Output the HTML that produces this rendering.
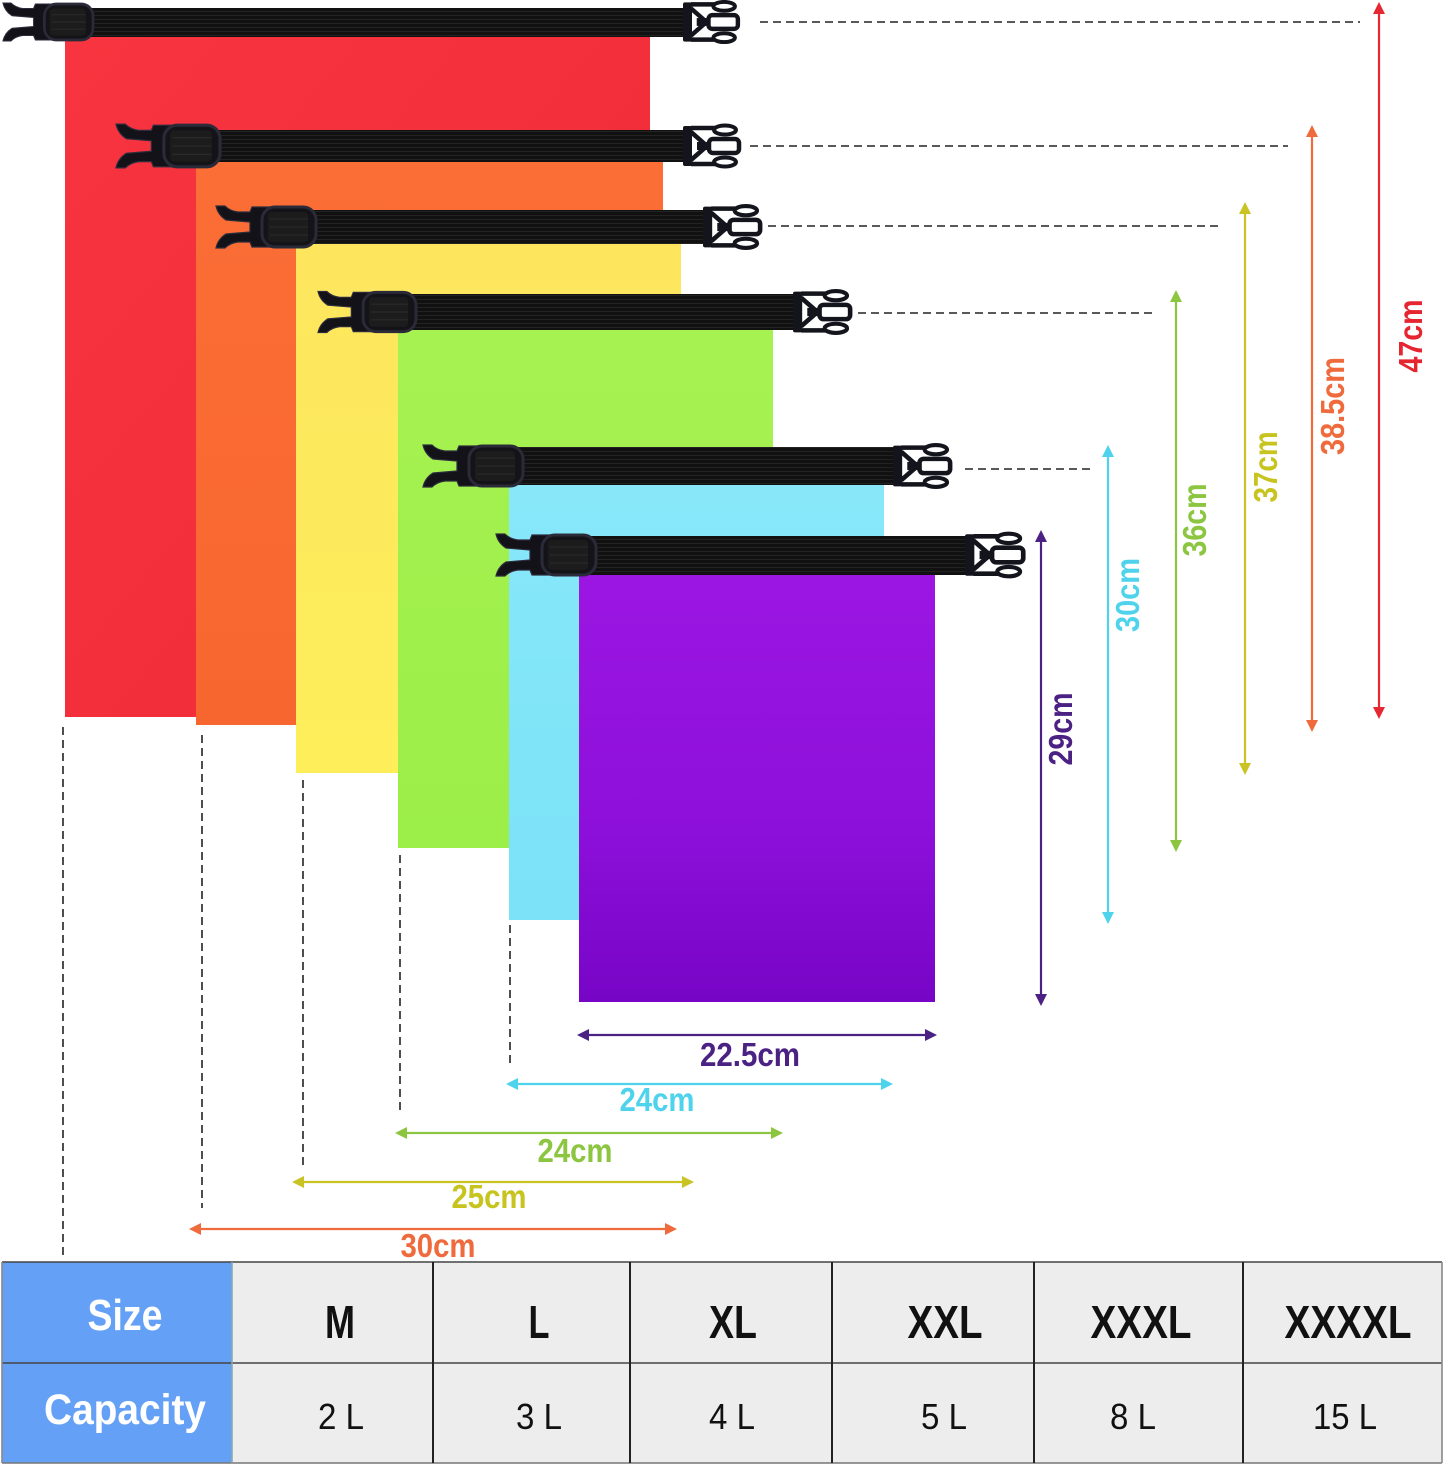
<!DOCTYPE html>
<html>
<head>
<meta charset="utf-8">
<style>
  html,body{margin:0;padding:0;background:#fff;}
  svg{display:block;}
  text{font-family:"Liberation Sans", Arial, sans-serif;}
</style>
</head>
<body>
<svg width="1445" height="1467" viewBox="0 0 1445 1467" xmlns="http://www.w3.org/2000/svg">
  <defs>
    <linearGradient id="gRed" x1="0" y1="0" x2="1" y2="1">
      <stop offset="0" stop-color="#f7343f"/><stop offset="1" stop-color="#f02a38"/>
    </linearGradient>
    <linearGradient id="gOr" x1="0" y1="0" x2="0" y2="1">
      <stop offset="0" stop-color="#fb6e36"/><stop offset="1" stop-color="#f8662f"/>
    </linearGradient>
    <linearGradient id="gYe" x1="0" y1="0" x2="0" y2="1">
      <stop offset="0" stop-color="#fde65e"/><stop offset="1" stop-color="#fdee5a"/>
    </linearGradient>
    <linearGradient id="gGr" x1="0" y1="0" x2="0" y2="1">
      <stop offset="0" stop-color="#a6f251"/><stop offset="1" stop-color="#9cee48"/>
    </linearGradient>
    <linearGradient id="gCy" x1="0" y1="0" x2="0" y2="1">
      <stop offset="0" stop-color="#88e8fa"/><stop offset="1" stop-color="#7be2f7"/>
    </linearGradient>
    <linearGradient id="gPu" x1="0" y1="0" x2="0" y2="1">
      <stop offset="0" stop-color="#9c16e2"/><stop offset="0.6" stop-color="#8d10da"/><stop offset="1" stop-color="#7705c6"/>
    </linearGradient>

    <!-- left (male) buckle + slider; local coords x 0..100, y -20..20 -->
    <g id="lbuck">
      <path d="M0,-21 L9,-21 Q14,-16 22,-15 L34,-15 L36,-20 L54,-20 L54,20 L36,20 L34,15 L22,15 Q14,16 9,21 L0,21 Q2,12 10,7 L34,5 L34,-5 L10,-7 Q2,-12 0,-21 Z" fill="#121218" stroke="#2c2c3c" stroke-width="1.2"/>
      <rect x="46" y="-20" width="54" height="40" rx="13" fill="#141418" stroke="#2a2a38" stroke-width="3"/>
      <rect x="52" y="-15" width="40" height="30" rx="4" fill="#1c1c1c"/>
      <line x1="54" y1="-8" x2="92" y2="-8" stroke="#2c2c2c" stroke-width="1"/>
      <line x1="54" y1="0" x2="92" y2="0" stroke="#2c2c2c" stroke-width="1"/>
      <line x1="54" y1="8" x2="92" y2="8" stroke="#2c2c2c" stroke-width="1"/>
    </g>
    <!-- right (female) buckle; local x 0..58 -->
    <g id="rbuck">
      <rect x="0" y="-20" width="9" height="40" rx="2" fill="#14141c"/>
      <path d="M8,-18 L32,-18 M8,18 L32,18 M8,-14 L24,0 L8,14" fill="none" stroke="#14141c" stroke-width="4.5"/>
      <ellipse cx="42" cy="-16" rx="11" ry="4.5" fill="#fff" stroke="#14141c" stroke-width="4"/>
      <ellipse cx="42" cy="16" rx="11" ry="4.5" fill="#fff" stroke="#14141c" stroke-width="4"/>
      <rect x="26" y="-7" width="30" height="14" rx="4" fill="#fff" stroke="#14141c" stroke-width="4.5"/>
      <rect x="14" y="-4" width="12" height="8" fill="#14141c"/>
    </g>
    <pattern id="web" width="6" height="4" patternUnits="userSpaceOnUse">
      <rect width="6" height="4" fill="#111"/>
      <line x1="0" y1="3.5" x2="6" y2="3.5" stroke="#262626" stroke-width="0.8"/>
    </pattern>
  </defs>

  <rect width="1445" height="1467" fill="#fff"/>

  <!-- ===== RED ===== -->
  <rect x="65" y="30" width="585" height="687" fill="url(#gRed)"/>
  <rect x="80" y="8" width="612" height="29" rx="3" fill="url(#web)"/>
  <g transform="translate(3,22) scale(0.9)"><use href="#lbuck"/></g>
  <g transform="translate(683,22) scale(0.98)"><use href="#rbuck"/></g>

  <!-- ===== ORANGE ===== -->
  <rect x="196" y="155" width="467" height="570" fill="url(#gOr)"/>
  <rect x="212" y="130" width="478" height="32" rx="3" fill="url(#web)"/>
  <g transform="translate(116,146) scale(1.04)"><use href="#lbuck"/></g>
  <g transform="translate(683,146) scale(1.0)"><use href="#rbuck"/></g>

  <!-- ===== YELLOW ===== -->
  <rect x="296" y="238" width="385" height="535" fill="url(#gYe)"/>
  <rect x="306" y="210" width="404" height="34" rx="3" fill="url(#web)"/>
  <g transform="translate(216,227) scale(1.0)"><use href="#lbuck"/></g>
  <g transform="translate(703,227) scale(1.02)"><use href="#rbuck"/></g>

  <!-- ===== GREEN ===== -->
  <rect x="398" y="322" width="375" height="526" fill="url(#gGr)"/>
  <rect x="408" y="294" width="392" height="36" rx="3" fill="url(#web)"/>
  <g transform="translate(318,312) scale(0.98)"><use href="#lbuck"/></g>
  <g transform="translate(793,312) scale(1.02)"><use href="#rbuck"/></g>

  <!-- ===== CYAN ===== -->
  <rect x="509" y="476" width="375" height="444" fill="url(#gCy)"/>
  <rect x="512" y="447" width="388" height="38" rx="3" fill="url(#web)"/>
  <g transform="translate(423,466) scale(1.0)"><use href="#lbuck"/></g>
  <g transform="translate(893,466) scale(1.02)"><use href="#rbuck"/></g>

  <!-- ===== PURPLE ===== -->
  <rect x="579" y="566" width="356" height="436" fill="url(#gPu)"/>
  <rect x="586" y="536" width="386" height="39" rx="3" fill="url(#web)"/>
  <g transform="translate(496,555) scale(1.0)"><use href="#lbuck"/></g>
  <g transform="translate(965,555) scale(1.04)"><use href="#rbuck"/></g>

  <!-- ===== dashed guide lines ===== -->
  <g stroke="#222" stroke-width="1.6" stroke-dasharray="8 5" fill="none">
    <line x1="760" y1="22" x2="1360" y2="22"/>
    <line x1="750" y1="146" x2="1288" y2="146"/>
    <line x1="768" y1="226" x2="1218" y2="226"/>
    <line x1="858" y1="313" x2="1152" y2="313"/>
    <line x1="965" y1="469" x2="1094" y2="469"/>
    <line x1="63" y1="727" x2="63" y2="1255"/>
    <line x1="202" y1="735" x2="202" y2="1208"/>
    <line x1="303" y1="780" x2="303" y2="1165"/>
    <line x1="400" y1="855" x2="400" y2="1110"/>
    <line x1="510" y1="925" x2="510" y2="1065"/>
  </g>

  <!-- ===== vertical arrows ===== -->
  <g stroke-width="2.2">
    <line x1="1379" y1="10" x2="1379" y2="711" stroke="#e52832"/>
    <polygon points="1379,2 1373,14 1385,14" fill="#e52832"/>
    <polygon points="1379,719 1373,707 1385,707" fill="#e52832"/>

    <line x1="1312" y1="133" x2="1312" y2="724" stroke="#ef6a3c"/>
    <polygon points="1312,125 1306,137 1318,137" fill="#ef6a3c"/>
    <polygon points="1312,732 1306,720 1318,720" fill="#ef6a3c"/>

    <line x1="1245" y1="210" x2="1245" y2="767" stroke="#c9c423"/>
    <polygon points="1245,202 1239,214 1251,214" fill="#c9c423"/>
    <polygon points="1245,775 1239,763 1251,763" fill="#c9c423"/>

    <line x1="1176" y1="298" x2="1176" y2="844" stroke="#8cc641"/>
    <polygon points="1176,290 1170,302 1182,302" fill="#8cc641"/>
    <polygon points="1176,852 1170,840 1182,840" fill="#8cc641"/>

    <line x1="1108" y1="453" x2="1108" y2="916" stroke="#4fd3ec"/>
    <polygon points="1108,445 1102,457 1114,457" fill="#4fd3ec"/>
    <polygon points="1108,924 1102,912 1114,912" fill="#4fd3ec"/>

    <line x1="1041" y1="538" x2="1041" y2="998" stroke="#4b2184"/>
    <polygon points="1041,530 1035,542 1047,542" fill="#4b2184"/>
    <polygon points="1041,1006 1035,994 1047,994" fill="#4b2184"/>
  </g>

  <!-- ===== horizontal arrows ===== -->
  <g stroke-width="2.2">
    <line x1="585" y1="1035" x2="929" y2="1035" stroke="#4b2184"/>
    <polygon points="577,1035 589,1029 589,1041" fill="#4b2184"/>
    <polygon points="937,1035 925,1029 925,1041" fill="#4b2184"/>

    <line x1="514" y1="1084" x2="885" y2="1084" stroke="#4fd3ec"/>
    <polygon points="506,1084 518,1078 518,1090" fill="#4fd3ec"/>
    <polygon points="893,1084 881,1078 881,1090" fill="#4fd3ec"/>

    <line x1="403" y1="1133" x2="775" y2="1133" stroke="#8cc641"/>
    <polygon points="395,1133 407,1127 407,1139" fill="#8cc641"/>
    <polygon points="783,1133 771,1127 771,1139" fill="#8cc641"/>

    <line x1="300" y1="1182" x2="686" y2="1182" stroke="#c9c423"/>
    <polygon points="292,1182 304,1176 304,1188" fill="#c9c423"/>
    <polygon points="694,1182 682,1176 682,1188" fill="#c9c423"/>

    <line x1="197" y1="1229" x2="669" y2="1229" stroke="#ef6a3c"/>
    <polygon points="189,1229 201,1223 201,1235" fill="#ef6a3c"/>
    <polygon points="677,1229 665,1223 665,1235" fill="#ef6a3c"/>
  </g>

  <!-- ===== vertical labels ===== -->
  <g font-weight="bold" font-size="33" text-anchor="middle">
    <text transform="translate(1422,336) rotate(-90)" textLength="73" lengthAdjust="spacingAndGlyphs" fill="#e52630">47cm</text>
    <text transform="translate(1344,406) rotate(-90)" textLength="98" lengthAdjust="spacingAndGlyphs" fill="#ef6a3c">38.5cm</text>
    <text transform="translate(1277,467) rotate(-90)" textLength="71" lengthAdjust="spacingAndGlyphs" fill="#c7c420">37cm</text>
    <text transform="translate(1206,520) rotate(-90)" textLength="73" lengthAdjust="spacingAndGlyphs" fill="#8cc641">36cm</text>
    <text transform="translate(1139,595) rotate(-90)" textLength="74" lengthAdjust="spacingAndGlyphs" fill="#4fd3ec">30cm</text>
    <text transform="translate(1072,729) rotate(-90)" textLength="73" lengthAdjust="spacingAndGlyphs" fill="#4b2184">29cm</text>
  </g>

  <!-- ===== horizontal labels ===== -->
  <g font-weight="bold" font-size="33" text-anchor="middle">
    <text x="750" y="1066" textLength="100" lengthAdjust="spacingAndGlyphs" fill="#4b2184">22.5cm</text>
    <text x="657" y="1111" textLength="75" lengthAdjust="spacingAndGlyphs" fill="#4fd3ec">24cm</text>
    <text x="575" y="1162" textLength="75" lengthAdjust="spacingAndGlyphs" fill="#8cc641">24cm</text>
    <text x="489" y="1208" textLength="75" lengthAdjust="spacingAndGlyphs" fill="#c7c420">25cm</text>
    <text x="438" y="1257" textLength="75" lengthAdjust="spacingAndGlyphs" fill="#ef6a3c">30cm</text>
  </g>

  <!-- ===== table ===== -->
  <rect x="2" y="1262" width="230" height="201" fill="#64a0f5"/>
  <rect x="232" y="1262" width="1210" height="201" fill="#ededed"/>
  <g stroke="#444" stroke-width="1.6">
    <line x1="2" y1="1262" x2="1442" y2="1262"/>
    <line x1="2" y1="1363" x2="1442" y2="1363"/>
    <line x1="2" y1="1463" x2="1442" y2="1463" stroke="#777"/>
    <line x1="2" y1="1262" x2="2" y2="1463" stroke="#888"/>
    <line x1="1442" y1="1262" x2="1442" y2="1463" stroke="#888"/>
    <line x1="232" y1="1262" x2="232" y2="1463" stroke="#8aa"/>
  </g>
  <g stroke="#222" stroke-width="2">
    <line x1="433" y1="1262" x2="433" y2="1463"/>
    <line x1="630" y1="1262" x2="630" y2="1463"/>
    <line x1="832" y1="1262" x2="832" y2="1463"/>
    <line x1="1034" y1="1262" x2="1034" y2="1463"/>
    <line x1="1243" y1="1262" x2="1243" y2="1463"/>
  </g>

  <g font-weight="bold" text-anchor="middle" fill="#fff">
    <text x="125" y="1330" font-size="44" textLength="75" lengthAdjust="spacingAndGlyphs">Size</text>
    <text x="125" y="1424" font-size="43" textLength="162" lengthAdjust="spacingAndGlyphs">Capacity</text>
  </g>
  <g font-weight="bold" text-anchor="middle" fill="#111" font-size="46">
    <text x="340" y="1338" textLength="30" lengthAdjust="spacingAndGlyphs">M</text>
    <text x="539" y="1338" textLength="21" lengthAdjust="spacingAndGlyphs">L</text>
    <text x="733" y="1338" textLength="48" lengthAdjust="spacingAndGlyphs">XL</text>
    <text x="945" y="1338" textLength="75" lengthAdjust="spacingAndGlyphs">XXL</text>
    <text x="1141" y="1338" textLength="101" lengthAdjust="spacingAndGlyphs">XXXL</text>
    <text x="1348" y="1338" textLength="127" lengthAdjust="spacingAndGlyphs">XXXXL</text>
  </g>
  <g text-anchor="middle" fill="#111" font-size="36">
    <text x="341" y="1429" textLength="46" lengthAdjust="spacingAndGlyphs">2 L</text>
    <text x="539" y="1429" textLength="46" lengthAdjust="spacingAndGlyphs">3 L</text>
    <text x="732" y="1429" textLength="46" lengthAdjust="spacingAndGlyphs">4 L</text>
    <text x="944" y="1429" textLength="46" lengthAdjust="spacingAndGlyphs">5 L</text>
    <text x="1133" y="1429" textLength="46" lengthAdjust="spacingAndGlyphs">8 L</text>
    <text x="1345" y="1429" textLength="64" lengthAdjust="spacingAndGlyphs">15 L</text>
  </g>
</svg>
</body>
</html>
